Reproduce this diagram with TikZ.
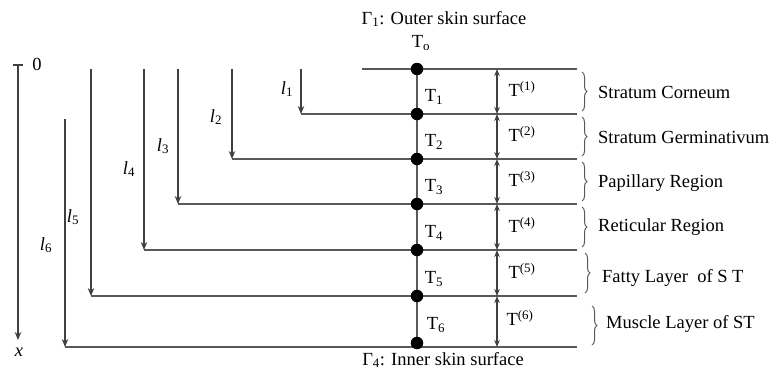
\documentclass[tikz,border=0pt]{standalone}
\usepackage{fontspec}
\setmainfont{Liberation Serif}
\usetikzlibrary{arrows.meta,decorations.pathreplacing}
\tikzset{
  hline/.style={draw=black!65, line width=1.3pt},
  varrow/.style={draw=black!75, line width=1.2pt, -{Stealth[length=8pt,width=6.5pt]}},
  darrow/.style={draw=black!75, line width=1.2pt, {Stealth[length=7pt,width=5.5pt]}-{Stealth[length=7pt,width=5.5pt]}},
  dot/.style={circle, fill=black, inner sep=0pt, minimum size=12.5pt},
  lbl/.style={inner sep=0pt, font=\fontsize{18.5}{22}\selectfont},
  brc/.style={draw=black!65, line width=1pt, decorate, decoration={brace, amplitude=5pt}},
}
\begin{document}
\begin{tikzpicture}[x=1pt,y=-1pt]
\useasboundingbox (0,0) rectangle (778,370);
% centre points
\foreach \i/\y in {0/69,1/114,2/159,3/204,4/250,5/296,6/343} {
  \coordinate (c\i) at (417,\y);
}
\draw[hline] (c0) -- (c6);
% horizontal lines
\coordinate (s0) at (362,69);  \coordinate (e0) at (577,69);
\coordinate (s1) at (301,114); \coordinate (e1) at (577,114);
\coordinate (s2) at (232,159); \coordinate (e2) at (577,159);
\coordinate (s3) at (178,204); \coordinate (e3) at (577,204);
\coordinate (s4) at (144,250); \coordinate (e4) at (577,250);
\coordinate (s5) at (91,296);  \coordinate (e5) at (577,296);
\coordinate (s6) at (65,347);  \coordinate (e6) at (577,347);
\foreach \i in {0,...,6} { \draw[hline] (s\i) -- (e\i); }
% dots on top
\foreach \i in {0,...,6} { \node[dot] (d\i) at (c\i) {}; }
% l arrows
\coordinate (a1) at (301,69);
\coordinate (a2) at (232,69);
\coordinate (a3) at (178,69);
\coordinate (a4) at (144,69);
\coordinate (a5) at (91,69);
\coordinate (a6) at (65,119);
\foreach \i in {1,...,6} { \draw[varrow] (a\i) -- (s\i); }
\node[lbl] (l1) at (287,89) {\textit{l}\textsubscript{1}};
\node[lbl] (l2) at (216,117) {\textit{l}\textsubscript{2}};
\node[lbl] (l3) at (163,146) {\textit{l}\textsubscript{3}};
\node[lbl] (l4) at (129,169) {\textit{l}\textsubscript{4}};
\node[lbl] (l5) at (73,217) {\textit{l}\textsubscript{5}};
\node[lbl] (l6) at (46,245) {\textit{l}\textsubscript{6}};
% x axis
\coordinate (ax0) at (18,65);
\coordinate (ax1) at (18,340);
\draw[varrow] (ax0) -- (ax1);
\coordinate (tk0) at (13,65); \coordinate (tk1) at (23,65);
\draw[hline, draw=black!75] (tk0) -- (tk1);
\node[lbl] (zero) at (37,64) {0};
\node[lbl] (xl) at (19,352) {\textit{x}};
% titles
\node[lbl] (g1) at (444,19) {Γ\textsubscript{1}: Outer skin surface};
\node[lbl] (to) at (421,43) {T\textsubscript{o}};
\node[lbl] (g4) at (443,360) {Γ\textsubscript{4}: Inner skin surface};
% T labels
\node[lbl] (t1) at (434,97) {T\textsubscript{1}};
\node[lbl] (t2) at (434,142) {T\textsubscript{2}};
\node[lbl] (t3) at (434,187) {T\textsubscript{3}};
\node[lbl] (t4) at (434,233) {T\textsubscript{4}};
\node[lbl] (t5) at (434,279) {T\textsubscript{5}};
\node[lbl] (t6) at (436,325) {T\textsubscript{6}};
% double arrows
\foreach \i/\y in {0/69,1/114,2/159,3/204,4/250,5/296,6/347} {
  \coordinate (m\i) at (497,\y);
}
\foreach \i/\j in {0/1,1/2,2/3,3/4,4/5,5/6} { \draw[darrow] (m\i) -- (m\j); }
\node[lbl] (u1) at (522,89) {T\textsuperscript{(1)}};
\node[lbl] (u2) at (522,134) {T\textsuperscript{(2)}};
\node[lbl] (u3) at (522,179) {T\textsuperscript{(3)}};
\node[lbl] (u4) at (522,225) {T\textsuperscript{(4)}};
\node[lbl] (u5) at (522,271) {T\textsuperscript{(5)}};
\node[lbl] (u6) at (520,318) {T\textsuperscript{(6)}};
% braces
\foreach \i/\a/\b/\x in {1/72/111/582,2/117/156/582,3/162/201/582,4/207/247/582,5/253/293/585,6/306/345/592} {
  \coordinate (bt\i) at (\x,\a); \coordinate (bb\i) at (\x,\b);
  \draw[brc] (bt\i) -- (bb\i);
}
\node[lbl, anchor=west] (r1) at (598,92) {Stratum Corneum};
\node[lbl, anchor=west] (r2) at (598,137) {Stratum Germinativum};
\node[lbl, anchor=west] (r3) at (598,183) {Papillary Region};
\node[lbl, anchor=west] (r4) at (598,227) {Reticular Region};
\node[lbl, anchor=west] (r5) at (602,278) {Fatty Layer\ \ of S T};
\node[lbl, anchor=west] (r6) at (606,324) {Muscle Layer of ST};
\end{tikzpicture}
\end{document}
